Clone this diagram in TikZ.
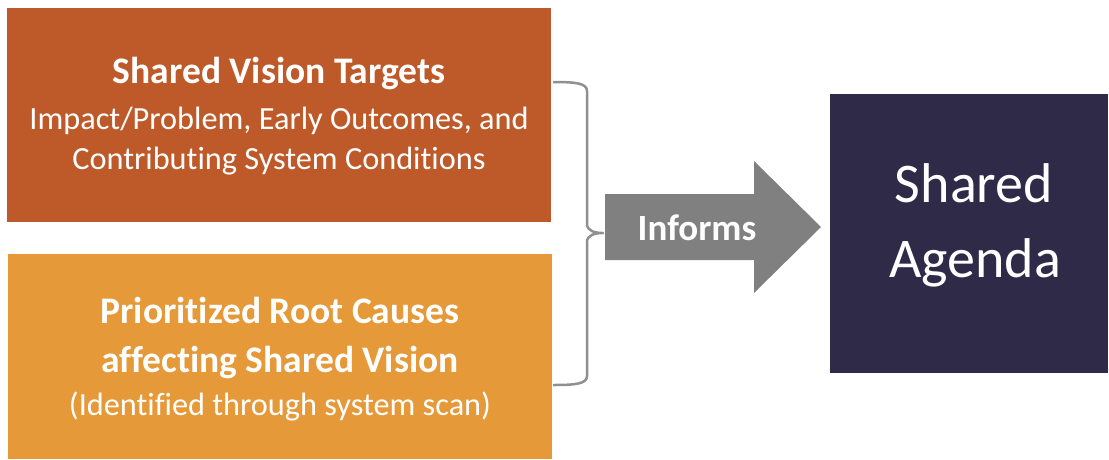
\documentclass[tikz,border=0pt]{standalone}
\usepackage{fontspec}
\setmainfont[Ligatures=NoCommon]{Carlito}
\definecolor{rust}{HTML}{BE5A2A}
\definecolor{amber}{HTML}{E59938}
\definecolor{navy}{HTML}{2E2A48}
\definecolor{arrowgray}{HTML}{808080}
\definecolor{bracegray}{HTML}{909090}
\begin{document}
\begin{tikzpicture}[x=1pt,y=-1pt,
  box/.style={fill=#1,draw=none},
  txt/.style={text=white,inner sep=0pt,anchor=base},
  boldtxt/.style={txt,font=\fontsize{37.5}{44}\selectfont\bfseries},
  regtxt/.style={txt,font=\fontsize{32.3}{38}\selectfont},
  bigtxt/.style={txt,font=\fontsize{56}{66}\selectfont},
  arrowtxt/.style={txt,font=\fontsize{37}{44}\selectfont\bfseries}]
\useasboundingbox (0,0) rectangle (1109,459);
% boxes
\path[box=rust] (7,8) rectangle (551,222);
\path[box=amber] (8,254) rectangle (552,459);
\path[box=navy] (830,94) rectangle (1108,373);
% box 1 text
\node[boldtxt] (t1a) at (279,83) {Shared Vision Targets};
\node[regtxt] (t1b) at (279,129) {Impact/Problem, Early Outcomes, and};
\node[regtxt] (t1c) at (279,169) {Contributing System Conditions};
% box 2 text
\node[boldtxt] (t2a) at (280,323) {Prioritized Root Causes};
\node[boldtxt] (t2b) at (280,372) {affecting Shared Vision};
\node[regtxt] (t2c) at (280,415) {(Identified through system scan)};
% brace
\coordinate (bt) at (553,82);
\coordinate (bm) at (603,233);
\coordinate (bb) at (553,385);
\draw[bracegray,line width=2.5pt,line join=round]
  (bt) .. controls (575,82) and (587,83) .. (587,91)
  -- (587,224) .. controls (587,231) and (595,233) .. (bm)
  .. controls (595,233) and (587,235) .. (587,242)
  -- (587,376) .. controls (587,384) and (575,385) .. (bb);
% arrow
\fill[arrowgray] (605,194) -- (754,194) -- (754,161) -- (821,227) -- (754,293) -- (754,260) -- (605,260) -- cycle;
\node[arrowtxt] (inf) at (697,240) {Informs};
% agenda text
\node[bigtxt] (sa1) at (974,202) {Shared};
\node[bigtxt] (sa2) at (975,277) {Agenda};
\end{tikzpicture}
\end{document}
